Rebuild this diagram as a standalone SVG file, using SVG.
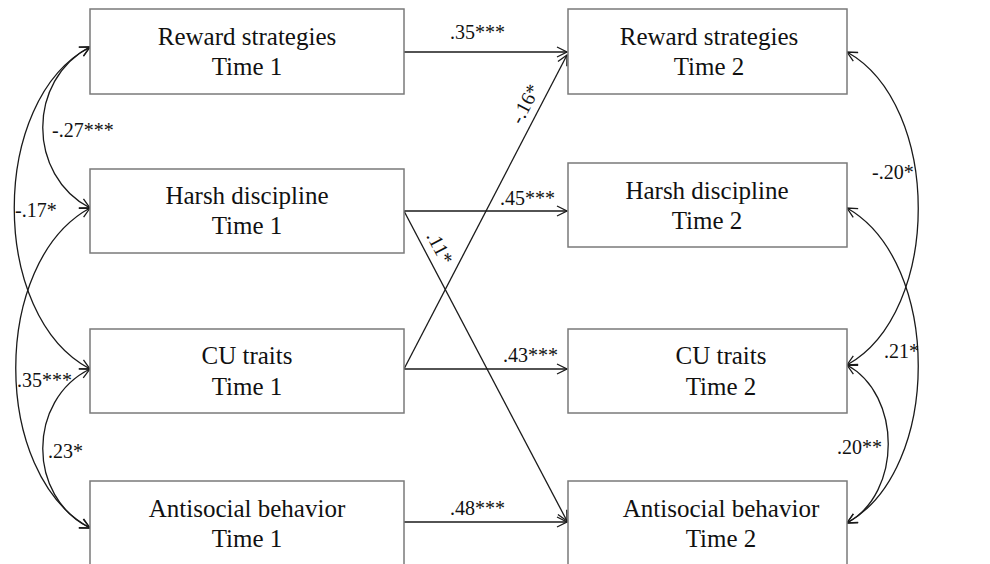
<svg xmlns="http://www.w3.org/2000/svg" width="990" height="564" viewBox="0 0 990 564">
<style>
.box{fill:#fff;stroke:#7a7a7a;stroke-width:1.5}
.nt{font-family:"Liberation Serif",serif;font-size:25px;fill:#111;text-anchor:middle}
.lb{font-family:"Liberation Serif",serif;font-size:20px;fill:#111}
.ln{fill:none;stroke:#1a1a1a;stroke-width:1.3}
</style>
<defs>
<marker id="ah" viewBox="0 0 12 12" refX="11" refY="6" markerWidth="12" markerHeight="12" markerUnits="userSpaceOnUse" orient="auto-start-reverse">
<path d="M1,1 L11,6 L1,11" fill="none" stroke="#1a1a1a" stroke-width="1.3"/>
</marker>
</defs>
<rect width="990" height="564" fill="#fff"/>
<g id="connectors">
<line class="ln" x1="404" y1="52" x2="567" y2="52" marker-end="url(#ah)"/>
<line class="ln" x1="404" y1="211" x2="567" y2="211" marker-end="url(#ah)"/>
<line class="ln" x1="404" y1="369" x2="567" y2="369" marker-end="url(#ah)"/>
<line class="ln" x1="404" y1="522" x2="567" y2="522" marker-end="url(#ah)"/>
<line class="ln" x1="404" y1="369" x2="567" y2="55" marker-end="url(#ah)"/>
<line class="ln" x1="404" y1="211" x2="567" y2="521" marker-end="url(#ah)"/>
<path class="ln" d="M90,47 C27,80 27,175 90,208" marker-start="url(#ah)" marker-end="url(#ah)"/>
<path class="ln" d="M90,47 C-11,100 -11,316 90,369" marker-start="url(#ah)" marker-end="url(#ah)"/>
<path class="ln" d="M90,208 C-9,262 -9,474 90,528" marker-start="url(#ah)" marker-end="url(#ah)"/>
<path class="ln" d="M90,369 C27,400 27,497 90,528" marker-start="url(#ah)" marker-end="url(#ah)"/>
<path class="ln" d="M847,52 C942,105 942,312 847,365" marker-start="url(#ah)" marker-end="url(#ah)"/>
<path class="ln" d="M847,208 C942,262 942,470 847,523" marker-start="url(#ah)" marker-end="url(#ah)"/>
<path class="ln" d="M847,365 C902,395 902,493 847,523" marker-start="url(#ah)" marker-end="url(#ah)"/>
<text class="lb" x="450" y="39">.35***</text>
<text class="lb" x="500" y="205">.45***</text>
<text class="lb" x="503" y="362">.43***</text>
<text class="lb" x="450" y="515">.48***</text>
<text class="lb" text-anchor="middle" transform="translate(531,107) rotate(-62.6)">-.16*</text>
<text class="lb" text-anchor="middle" transform="translate(434,251) rotate(62.2)">.11*</text>
<text class="lb" x="52" y="137">-.27***</text>
<text class="lb" x="15" y="217">-.17*</text>
<text class="lb" x="17" y="387">.35***</text>
<text class="lb" x="48" y="458">.23*</text>
<text class="lb" x="872" y="179">-.20*</text>
<text class="lb" x="884" y="358">.21*</text>
<text class="lb" x="837" y="454">.20**</text>
</g>
<g id="reward1"><rect class="box" x="90" y="9" width="314" height="85"/><text class="nt" x="247" y="45">Reward strategies</text><text class="nt" x="247" y="75">Time 1</text></g>
<g id="harsh1"><rect class="box" x="90" y="169" width="314" height="84"/><text class="nt" x="247" y="204">Harsh discipline</text><text class="nt" x="247" y="234">Time 1</text></g>
<g id="cu1"><rect class="box" x="90" y="329" width="314" height="84"/><text class="nt" x="247" y="364">CU traits</text><text class="nt" x="247" y="395">Time 1</text></g>
<g id="anti1"><rect class="box" x="90" y="481" width="314" height="86"/><text class="nt" x="247" y="517">Antisocial behavior</text><text class="nt" x="247" y="547">Time 1</text></g>
<g id="reward2"><rect class="box" x="568" y="9" width="279" height="85"/><text class="nt" x="709" y="45">Reward strategies</text><text class="nt" x="709" y="75">Time 2</text></g>
<g id="harsh2"><rect class="box" x="568" y="163" width="279" height="84"/><text class="nt" x="707" y="199">Harsh discipline</text><text class="nt" x="707" y="229">Time 2</text></g>
<g id="cu2"><rect class="box" x="568" y="329" width="279" height="84"/><text class="nt" x="721" y="364">CU traits</text><text class="nt" x="721" y="395">Time 2</text></g>
<g id="anti2"><rect class="box" x="568" y="481" width="279" height="86"/><text class="nt" x="721" y="517">Antisocial behavior</text><text class="nt" x="721" y="547">Time 2</text></g>
</svg>
